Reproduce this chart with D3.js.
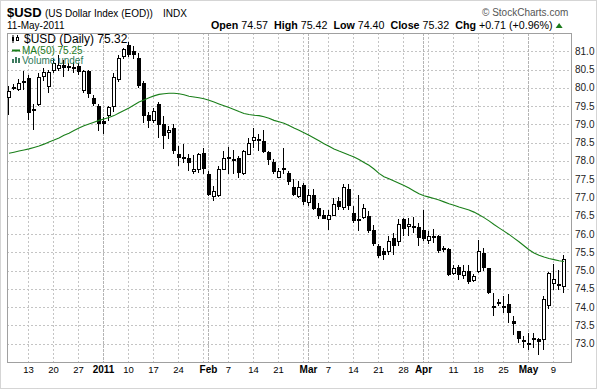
<!DOCTYPE html>
<html>
<head>
<meta charset="utf-8">
<script src="https://cdn.jsdelivr.net/npm/d3@7"></script>
<style>
body { margin: 0; background: #fff; }
svg { display: block; font-family: "Liberation Sans", Arial, sans-serif; }
</style>
</head>
<body>
<div id="chart"></div>
<script>
// trading days Dec 7 2010 .. May 11 2011 (weekdays)
var dates = d3.utcDays(new Date(Date.UTC(2010, 11, 7)), new Date(Date.UTC(2011, 4, 12)))
  .filter(function(d) { return d.getUTCDay() % 6 !== 0; });

var open = [79.75,80.02,79.97,80.15,80.27,79.42,79.57,80.32,80.05,80.50,
  80.55,80.62,80.60,80.58,80.60,79.95,80.45,79.73,79.50,79.10,
  79.25,79.50,80.23,80.86,81.18,81.00,80.82,80.14,79.27,79.12,
  79.55,79.00,78.79,78.90,78.18,78.12,78.09,77.73,77.78,78.22,
  77.65,77.03,77.08,77.78,78.10,78.06,78.08,77.67,78.19,78.57,
  78.60,78.54,78.25,77.97,77.56,77.80,77.67,77.29,77.03,77.33,
  76.87,77.08,76.72,76.53,76.42,76.53,76.90,76.74,77.23,76.58,
  76.42,76.47,76.49,76.10,75.68,75.55,75.55,75.90,75.80,76.40,
  76.22,76.22,76.20,76.12,75.85,75.94,75.96,75.62,75.60,74.94,
  75.09,74.89,75.00,74.73,74.98,75.49,75.07,74.03,74.12,74.02,
  74.10,73.62,73.34,73.10,73.03,73.15,73.13,73.13,74.05,74.66,
  74.64,74.57];
var high = [80.05,80.10,80.25,80.45,80.36,79.55,80.40,80.55,80.50,80.80,
  80.90,80.75,80.68,80.72,80.68,80.50,80.50,79.80,79.55,79.20,
  79.50,80.40,80.90,81.10,81.25,81.15,80.95,80.20,79.35,79.45,
  79.60,79.23,78.95,79.00,78.41,78.45,78.18,78.15,78.22,78.36,
  77.72,77.31,77.86,78.27,78.38,78.30,78.13,78.30,78.63,78.90,
  78.75,78.84,78.28,78.05,77.80,78.36,77.72,77.51,77.44,77.40,
  77.22,77.22,76.85,76.67,76.67,76.98,77.02,77.38,77.38,76.76,
  77.08,76.81,76.63,76.26,75.72,75.62,75.94,76.03,76.40,76.44,
  76.44,76.46,76.31,76.67,76.08,76.13,75.97,75.68,75.62,75.14,
  75.14,75.14,75.14,74.91,75.85,75.62,75.08,74.39,74.23,74.30,
  74.37,73.75,73.34,73.20,73.30,73.30,73.16,74.30,74.97,75.18,
  75.03,75.42];
var low = [79.25,79.95,79.90,79.95,79.12,78.85,79.50,80.20,79.85,80.40,
  80.45,80.30,80.45,80.40,80.35,79.85,79.73,79.50,78.82,78.75,
  79.10,79.35,80.15,80.80,80.85,80.80,80.00,79.05,78.90,79.05,
  78.64,78.32,78.60,78.18,77.86,77.95,77.73,77.63,77.67,77.63,
  77.03,76.90,77.02,77.76,77.63,77.63,77.54,77.62,78.15,78.36,
  78.27,78.22,77.90,77.63,77.53,77.63,77.35,77.03,76.98,76.80,
  76.78,76.67,76.40,76.40,76.12,76.49,76.67,76.67,76.67,76.31,
  76.08,76.40,76.03,75.67,75.35,75.28,75.44,75.44,75.67,75.94,
  75.94,76.04,75.67,75.80,75.73,75.76,75.49,75.52,74.85,74.89,
  74.73,74.76,74.64,74.69,74.94,75.00,74.35,73.75,74.02,73.84,
  73.57,73.25,73.02,72.89,72.84,72.89,72.70,72.84,73.94,74.48,
  74.48,74.40];
var close = [79.91,79.98,80.14,80.20,79.32,79.38,80.30,80.42,80.43,80.68,
  80.62,80.55,80.54,80.52,80.43,80.45,79.82,79.55,79.00,79.02,
  79.47,80.30,80.82,81.05,80.90,80.90,80.05,79.23,79.10,79.36,
  78.97,78.68,78.86,78.27,78.09,78.05,77.94,77.77,78.18,77.77,
  77.08,77.19,77.78,78.08,78.05,78.02,77.67,78.27,78.49,78.66,
  78.57,78.25,78.02,77.69,77.72,77.82,77.42,77.08,77.28,76.87,
  77.08,76.69,76.49,76.42,76.51,76.82,76.74,77.29,76.76,76.35,
  76.38,76.72,76.08,75.74,75.39,75.44,75.80,75.67,76.28,76.15,
  76.28,76.19,75.90,75.87,75.94,75.92,75.53,75.58,74.89,75.07,
  74.87,74.98,74.69,74.86,75.53,75.06,74.39,74.00,74.15,73.99,
  73.84,73.54,73.14,73.05,72.96,73.17,73.05,74.21,74.94,74.76,
  74.60,75.32];
var ma50 = [78.21,78.24,78.27,78.30,78.33,78.37,78.41,78.46,78.52,78.57,
  78.63,78.70,78.76,78.83,78.90,78.96,79.01,79.06,79.11,79.15,
  79.19,79.24,79.31,79.38,79.45,79.53,79.61,79.67,79.73,79.78,
  79.82,79.84,79.85,79.85,79.84,79.81,79.77,79.75,79.73,79.70,
  79.66,79.61,79.56,79.51,79.46,79.41,79.35,79.30,79.27,79.25,
  79.24,79.21,79.17,79.11,79.07,79.03,78.97,78.90,78.84,78.77,
  78.70,78.63,78.55,78.47,78.40,78.33,78.27,78.22,78.16,78.11,
  78.04,77.96,77.88,77.78,77.66,77.57,77.51,77.45,77.39,77.33,
  77.26,77.18,77.10,77.05,77.01,76.97,76.93,76.88,76.83,76.79,
  76.74,76.70,76.66,76.60,76.53,76.45,76.36,76.26,76.17,76.08,
  75.99,75.89,75.79,75.68,75.57,75.48,75.42,75.37,75.33,75.30,
  75.27,75.25];

var yTicks = [73.0,73.5,74.0,74.5,75.0,75.5,76.0,76.5,77.0,77.5,78.0,78.5,79.0,79.5,80.0,80.5,81.0];
var weekLines = ["2010-12-13","2010-12-20","2010-12-27","2011-01-10","2011-01-17","2011-01-24","2011-01-31",
  "2011-02-07","2011-02-14","2011-02-21","2011-02-28","2011-03-07","2011-03-14","2011-03-21","2011-03-28",
  "2011-04-04","2011-04-11","2011-04-18","2011-04-25","2011-05-09"];
var monthLines = ["2011-01-03","2011-02-01","2011-03-01","2011-04-01","2011-05-02"];
var xTickDates = ["2010-12-13","2010-12-20","2010-12-27","2011-01-03","2011-01-10","2011-01-17","2011-01-24",
  "2011-02-01","2011-02-07","2011-02-14","2011-02-21","2011-03-01","2011-03-07","2011-03-14","2011-03-21",
  "2011-03-28","2011-04-01","2011-04-11","2011-04-18","2011-04-25","2011-05-02","2011-05-09"];
var xTickText = ["13","20","27","2011","10","17","24","Feb","7","14","21","Mar","7","14","21","28","Apr","11","18","25","May","9"];
var xTickBold = [0,0,0,1,0,0,0,1,0,0,0,1,0,0,0,0,1,0,0,0,1,0];

var fmt = d3.utcFormat("%Y-%m-%d");
var W = 597, H = 389;
var plotW = 564, plotH = 329;

var svg = d3.select("#chart").append("svg")
  .attr("width", W)
  .attr("height", H);

svg.append("rect")
  .attr("x", 0.5).attr("y", 0.5)
  .attr("width", W - 1).attr("height", H - 1)
  .attr("fill", "#fff")
  .attr("stroke", "#aaa")
  .attr("stroke-dasharray", "1,1");

// header
svg.append("text").attr("x", 7).attr("y", 17)
  .style("font-size", "13px").style("font-weight", "bold").text("$USD");
svg.append("text").attr("x", 45).attr("y", 17)
  .style("font-size", "10px").text("(US Dollar Index (EOD))");
svg.append("text").attr("x", 163).attr("y", 17)
  .style("font-size", "10px").text("INDX");
svg.append("text").attr("x", 7).attr("y", 29)
  .style("font-size", "10px").text("11-May-2011");
svg.append("text").attr("x", 482).attr("y", 16)
  .style("font-size", "10px").attr("fill", "#555").text("\u00a9 StockCharts.com");

var hdr = svg.append("text").attr("x", 211).attr("y", 29)
  .style("font-size", "10.7px").style("white-space", "pre");
var hdrParts = [["Open", " 74.57  "], ["High", " 75.42  "], ["Low", " 74.40  "], ["Close", " 75.32  "], ["Chg", " +0.71 (+0.96%)"]];
hdrParts.forEach(function(p) {
  hdr.append("tspan").style("font-weight", "bold").text(p[0]);
  hdr.append("tspan").text(p[1]);
});
var hdrEnd = 211 + hdr.node().getComputedTextLength();
svg.append("path")
  .attr("d", "M" + (hdrEnd + 3) + ",28 L" + (hdrEnd + 10) + ",28 L" + (hdrEnd + 6.5) + ",23 Z")
  .attr("fill", "#1a7a1a");

var g = svg.append("g").attr("transform", "translate(7,33)");

var x = d3.scaleBand()
  .domain(dates.map(fmt))
  .range([-0.5, 559.5])
  .paddingInner(0.2)
  .paddingOuter(0.1);

var y = d3.scaleLinear()
  .domain([72.5, 81.5])
  .range([plotH, 0]);

function cx(d) { return Math.round(x(d)) + 1.5; }

// grid
g.selectAll(".hgrid").data(yTicks).enter().append("line")
  .attr("x1", 0).attr("x2", plotW)
  .attr("y1", function(d) { return Math.round(y(d)) + 0.5; })
  .attr("y2", function(d) { return Math.round(y(d)) + 0.5; })
  .attr("stroke", "#c4c4c4")
  .attr("stroke-dasharray", "2,2");

g.selectAll(".wgrid").data(weekLines).enter().append("line")
  .attr("x1", cx).attr("x2", cx)
  .attr("y1", 0).attr("y2", plotH)
  .attr("stroke", "#c4c4c4")
  .attr("stroke-dasharray", "2,2");

g.selectAll(".mgrid").data(monthLines).enter().append("line")
  .attr("x1", cx).attr("x2", cx)
  .attr("y1", 0).attr("y2", plotH)
  .attr("stroke", "#b4b4b4")
  .attr("stroke-dasharray", "3,1");

g.append("rect")
  .attr("x", 0.5).attr("y", 0.5)
  .attr("width", plotW).attr("height", plotH)
  .attr("fill", "none")
  .attr("stroke", "#a0a0a0");

// y axis labels
g.selectAll(".ylab").data(yTicks).enter().append("text")
  .attr("x", plotW + 4)
  .attr("y", function(d) { return y(d) + 3.5; })
  .style("font-size", "10px")
  .attr("fill", "#222")
  .text(d3.format(".1f"));

// x axis labels
g.selectAll(".xlab").data(xTickDates).enter().append("text")
  .attr("x", function(d) { return cx(d); })
  .attr("y", 340)
  .attr("text-anchor", "middle")
  .style("font-size", function(d, i) { return xTickBold[i] ? "10px" : "9.5px"; })
  .style("font-weight", function(d, i) { return xTickBold[i] ? "bold" : "normal"; })
  .text(function(d, i) { return xTickText[i]; });

// candles
var candles = dates.map(function(d, i) {
  return {key: fmt(d), o: open[i], h: high[i], l: low[i], c: close[i]};
});

var cg = g.selectAll(".candle").data(candles).enter().append("g");

cg.append("line")
  .attr("x1", function(d) { return cx(d.key); })
  .attr("x2", function(d) { return cx(d.key); })
  .attr("y1", function(d) { return Math.round(y(d.h)); })
  .attr("y2", function(d) { return Math.round(y(d.l)); })
  .attr("stroke", "#000");

cg.append("rect")
  .attr("x", function(d) { return Math.round(x(d.key)) + (d.c >= d.o ? 0.5 : 0); })
  .attr("y", function(d) {
    var t = Math.round(y(Math.max(d.o, d.c)));
    return d.c >= d.o ? t + 0.5 : t;
  })
  .attr("width", function(d) { return d.c >= d.o ? 3 : 4; })
  .attr("height", function(d) {
    var hgt = Math.round(y(Math.min(d.o, d.c))) - Math.round(y(Math.max(d.o, d.c)));
    return d.c >= d.o ? Math.max(hgt, 1) : Math.max(hgt, 2);
  })
  .attr("fill", function(d) { return d.c >= d.o ? "#fff" : "#000"; })
  .attr("stroke", function(d) { return d.c >= d.o ? "#000" : "none"; });

// moving average
var maLine = d3.line()
  .x(function(d, i) { return x(fmt(dates[i])) + 2; })
  .y(function(d) { return y(d); });

g.append("path")
  .datum(ma50)
  .attr("d", maLine)
  .attr("fill", "none")
  .attr("stroke", "#1a7f1a")
  .attr("stroke-width", 1.1);

// legend
var lg = svg.append("g");
lg.append("rect").attr("x", 12).attr("y", 37).attr("width", 2).attr("height", 4).attr("fill", "#000");
lg.append("line").attr("x1", 13).attr("x2", 13).attr("y1", 35).attr("y2", 43).attr("stroke", "#000");
lg.append("rect").attr("x", 16.5).attr("y", 37.5).attr("width", 2).attr("height", 3).attr("fill", "#fff").attr("stroke", "#000");
lg.append("line").attr("x1", 17.5).attr("x2", 17.5).attr("y1", 35).attr("y2", 37).attr("stroke", "#000");
lg.append("text").attr("x", 24).attr("y", 43)
  .style("font-size", "12px").text("$USD (Daily) 75.32");

lg.append("line").attr("x1", 12).attr("x2", 20).attr("y1", 50.5).attr("y2", 50.5)
  .attr("stroke", "#1a7f1a").attr("stroke-width", 2);
lg.append("text").attr("x", 22).attr("y", 54)
  .style("font-size", "10px").attr("fill", "#1b7a1b").text("MA(50) 75.25");

[[12, 59], [15, 57], [18, 58]].forEach(function(b) {
  lg.append("rect").attr("x", b[0]).attr("y", b[1]).attr("width", 2).attr("height", 63 - b[1])
    .attr("fill", "#3d7a5e");
});
lg.append("text").attr("x", 22).attr("y", 64)
  .style("font-size", "10px").attr("fill", "#2e7a5a").text("Volume undef");
</script>
</body>
</html>
